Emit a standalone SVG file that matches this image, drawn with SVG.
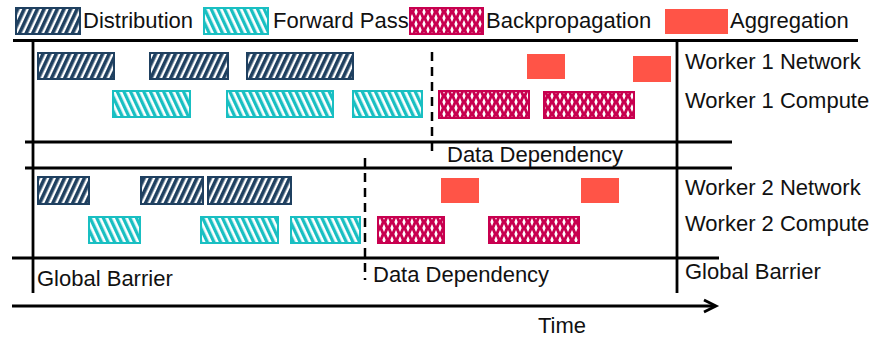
<svg xmlns="http://www.w3.org/2000/svg" width="876" height="339" viewBox="0 0 876 339">
<style>
text{font-family:"Liberation Sans",Arial,Helvetica,sans-serif;font-size:22px;fill:#111}
.ln{stroke:#000;stroke-width:2.8;fill:none}
.dash{stroke:#000;stroke-width:2.5;stroke-dasharray:9 6;fill:none}
.dist{fill:url(#pDist);stroke:#1f4060;stroke-width:2}
.fwd{fill:url(#pFwd);stroke:#19bfc2;stroke-width:2}
.bwd{fill:url(#pBwd);stroke:#c8004f;stroke-width:2}
.agg{fill:#ff5447}
</style>
<defs>
<pattern id="pDist" patternUnits="userSpaceOnUse" width="6" height="6" patternTransform="rotate(25)">
<rect width="6" height="6" fill="#fff"/>
<rect width="3.6" height="6" fill="#1f4060"/>
</pattern>
<pattern id="pFwd" patternUnits="userSpaceOnUse" width="6" height="6" patternTransform="rotate(-25)">
<rect width="6" height="6" fill="#fff"/>
<rect width="3.3" height="6" fill="#19bfc2"/>
</pattern>
<pattern id="pBwd" patternUnits="userSpaceOnUse" width="8" height="12">
<rect width="8" height="12" fill="#c8004f"/>
<polygon points="4,2 5.7,6 4,10 2.3,6" fill="#fff"/>
<polygon points="0,-4 1.7,0 0,4 -1.7,0" fill="#fff"/>
<polygon points="8,-4 9.7,0 8,4 6.3,0" fill="#fff"/>
<polygon points="0,8 1.7,12 0,16 -1.7,12" fill="#fff"/>
<polygon points="8,8 9.7,12 8,16 6.3,12" fill="#fff"/>
</pattern>
</defs>

<g id="legend">
<rect class="dist" x="16" y="8" width="64" height="26"/>
<text x="83" y="28">Distribution</text>
<rect class="fwd" x="204" y="8" width="64" height="26"/>
<text x="273" y="28">Forward Pass</text>
<rect class="bwd" x="410" y="8" width="73" height="26"/>
<text x="486" y="28">Backpropagation</text>
<rect class="agg" x="665" y="9" width="63" height="25"/>
<text x="730" y="28">Aggregation</text>
</g>

<g id="connectors">
<line class="ln" x1="13" y1="40.5" x2="858" y2="40.5"/>
<line class="ln" x1="33" y1="40" x2="33" y2="293" stroke-width="3"/>
<line class="ln" x1="677" y1="40" x2="677" y2="293" stroke-width="3"/>
<line class="ln" x1="25" y1="142" x2="732" y2="142"/>
<line class="ln" x1="25" y1="168" x2="732" y2="168"/>
<line class="ln" x1="12" y1="258" x2="719" y2="258"/>
<line class="ln" x1="12" y1="306" x2="715" y2="306"/>
<polyline class="ln" points="704,300 716,306 704,312"/>
<line class="dash" x1="432" y1="52" x2="432" y2="157"/>
<line class="dash" x1="365" y1="158" x2="365" y2="280"/>
</g>

<g id="worker1">
<rect class="dist" x="38" y="53" width="76" height="26"/>
<rect class="dist" x="150" y="53" width="78" height="26"/>
<rect class="dist" x="247" y="53" width="106" height="26"/>
<rect class="fwd" x="113" y="91" width="77" height="26"/>
<rect class="fwd" x="227" y="91" width="106" height="26"/>
<rect class="fwd" x="353" y="91" width="69" height="26"/>
<rect class="bwd" x="439" y="91" width="90" height="27"/>
<rect class="bwd" x="544" y="92" width="90" height="26"/>
<rect class="agg" x="527" y="54" width="38" height="25"/>
<rect class="agg" x="633" y="56" width="38" height="26"/>
</g>

<g id="worker2">
<rect class="dist" x="38" y="177" width="51" height="27"/>
<rect class="dist" x="141" y="177" width="62" height="27"/>
<rect class="dist" x="208" y="177" width="83" height="27"/>
<rect class="fwd" x="89" y="217" width="51" height="26"/>
<rect class="fwd" x="201" y="217" width="77" height="26"/>
<rect class="fwd" x="291" y="217" width="69" height="26"/>
<rect class="bwd" x="378" y="217" width="66" height="26"/>
<rect class="bwd" x="489" y="217" width="90" height="26"/>
<rect class="agg" x="441" y="178" width="38" height="25"/>
<rect class="agg" x="581" y="178" width="38" height="25"/>
</g>

<g id="labels">
<text x="685" y="69">Worker 1 Network</text>
<text x="685" y="108">Worker 1 Compute</text>
<text x="685" y="195">Worker 2 Network</text>
<text x="685" y="231">Worker 2 Compute</text>
<text x="447" y="162">Data Dependency</text>
<text x="373" y="282">Data Dependency</text>
<text x="37" y="286">Global Barrier</text>
<text x="685" y="279">Global Barrier</text>
<text x="538" y="333">Time</text>
</g>
</svg>
